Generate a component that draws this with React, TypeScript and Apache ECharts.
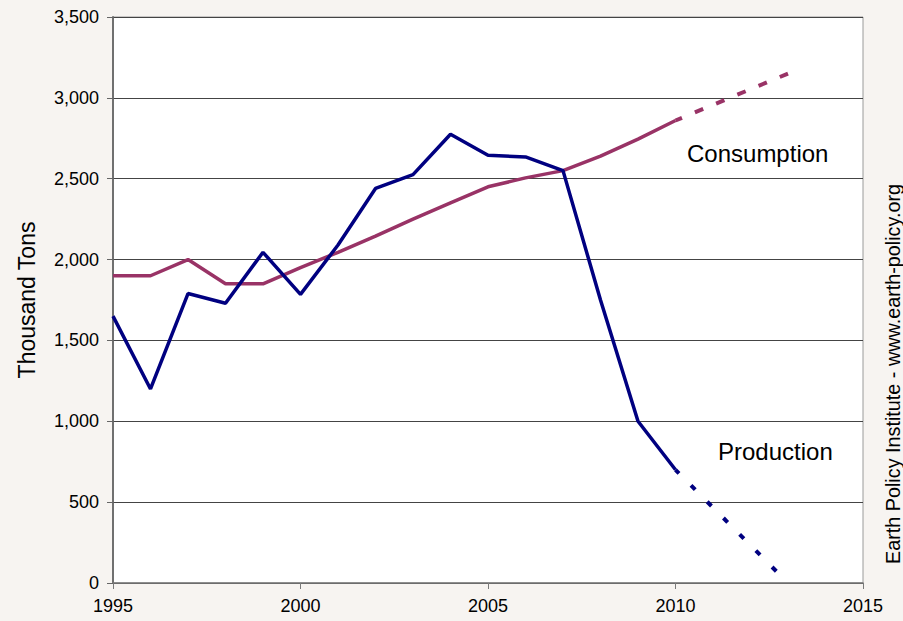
import React, { useEffect, useRef } from "react";
import * as echarts from "echarts";

const years = [1995, 1996, 1997, 1998, 1999, 2000, 2001, 2002, 2003, 2004, 2005, 2006, 2007, 2008, 2009, 2010];
const production = [1650, 1200, 1790, 1730, 2045, 1785, 2090, 2440, 2525, 2775, 2645, 2635, 2550, 1750, 1000, 700];
const consumption = [1900, 1900, 2000, 1850, 1850, 1950, 2045, 2145, 2250, 2350, 2450, 2505, 2550, 2640, 2745, 2860];
const projectionYears = [2010, 2013];
const productionProjection = [700, 0];
const consumptionProjection = [2860, 3150];
const yTicks = [0, 500, 1000, 1500, 2000, 2500, 3000, 3500];
const xTicks = [1995, 2000, 2005, 2010, 2015];

const FONT = "'Liberation Sans', Arial, sans-serif";
const NAVY = "#000080";
const PLUM = "#993366";

export default function App() {
  const ref = useRef<HTMLDivElement>(null);
  useEffect(() => {
    if (!ref.current) return;
    const chart = echarts.init(ref.current, undefined, { renderer: "svg" });
    const pair = (xs: number[], ys: number[]) => xs.map((x, i) => [x, ys[i]]);
    chart.setOption({
      animation: false,
      backgroundColor: "#f7f4f1",
      grid: { left: 113, right: 40, top: 17, bottom: 38, show: true, backgroundColor: "#ffffff", borderColor: "#9a9a9a", borderWidth: 1 },
      xAxis: {
        type: "value",
        min: xTicks[0],
        max: xTicks[xTicks.length - 1],
        interval: 5,
        axisLine: { show: true, onZero: false, lineStyle: { color: "#7a7a7a", width: 1.5 } },
        axisTick: { show: true, length: 6, lineStyle: { color: "#7a7a7a" } },
        splitLine: { show: false },
        axisLabel: { color: "#000", fontFamily: FONT, fontSize: 18, margin: 14, formatter: (v: number) => String(v) },
      },
      yAxis: {
        type: "value",
        min: yTicks[0],
        max: yTicks[yTicks.length - 1],
        interval: 500,
        axisLine: { show: true, lineStyle: { color: "#666666", width: 1.8 } },
        axisTick: { show: true, length: 6, lineStyle: { color: "#666666" } },
        splitLine: { show: true, lineStyle: { color: "#444444", width: 1 } },
        axisLabel: {
          color: "#000",
          fontFamily: FONT,
          fontSize: 18,
          margin: 14,
          formatter: (v: number) => v.toLocaleString("en-US"),
        },
      },
      series: [
        {
          name: "Production",
          type: "line",
          data: pair(years, production),
          showSymbol: false,
          symbol: "none",
          lineStyle: { color: NAVY, width: 3.5 },
          z: 3,
        },
        {
          name: "Production projection",
          type: "line",
          data: pair(projectionYears, productionProjection),
          showSymbol: false,
          symbol: "none",
          lineStyle: { color: NAVY, width: 4, type: [6, 17], dashOffset: 0.5 },
          z: 3,
        },
        {
          name: "Consumption",
          type: "line",
          data: pair(years, consumption),
          showSymbol: false,
          symbol: "none",
          lineStyle: { color: PLUM, width: 3.5 },
          z: 2,
        },
        {
          name: "Consumption projection",
          type: "line",
          data: pair(projectionYears, consumptionProjection),
          showSymbol: false,
          symbol: "none",
          lineStyle: { color: PLUM, width: 4, type: [9, 14], dashOffset: 1.7 },
          z: 2,
        },
      ],
      graphic: [
        {
          type: "text",
          x: 687,
          y: 153,
          style: { text: "Consumption", fill: "#000", font: `24px ${FONT}`, textAlign: "left", textVerticalAlign: "middle" },
        },
        {
          type: "text",
          x: 718,
          y: 451,
          style: { text: "Production", fill: "#000", font: `24px ${FONT}`, textAlign: "left", textVerticalAlign: "middle" },
        },
        {
          type: "text",
          x: 27,
          y: 300,
          rotation: Math.PI / 2,
          style: { text: "Thousand Tons", fill: "#000", font: `23px ${FONT}`, textAlign: "center", textVerticalAlign: "middle" },
        },
        {
          type: "text",
          x: 893,
          y: 374,
          rotation: Math.PI / 2,
          style: { text: "Earth Policy Institute - www.earth-policy.org", fill: "#000", font: `19.8px ${FONT}`, textAlign: "center", textVerticalAlign: "middle" },
        },
      ],
    });
    return () => chart.dispose();
  }, []);
  return <div ref={ref} style={{ position: "fixed", left: 0, top: 0, width: 903, height: 621 }} />;
}
